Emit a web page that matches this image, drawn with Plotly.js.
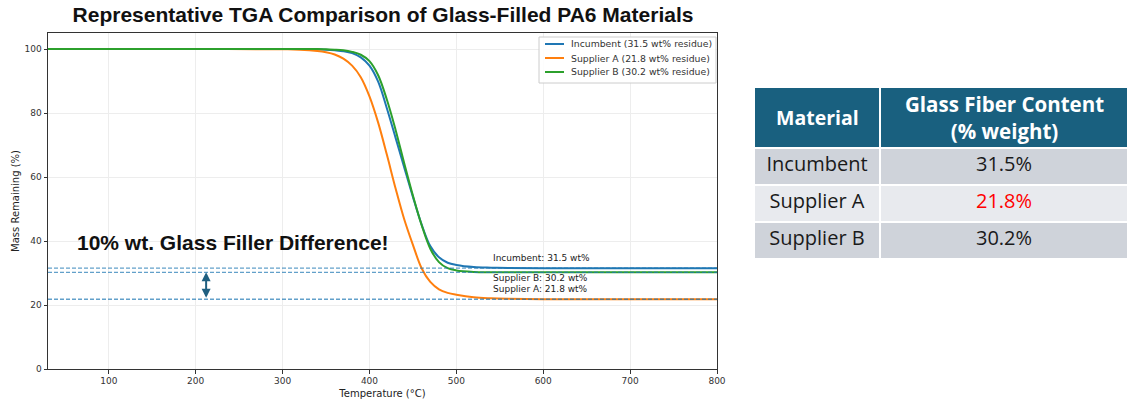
<!DOCTYPE html>
<html>
<head>
<meta charset="utf-8">
<script src="https://cdn.plot.ly/plotly-3.0.1.min.js"></script>
<style>html,body{margin:0;padding:0;background:#fff;}#chart{width:1129px;height:402px;}</style>
</head>
<body>
<div id="chart"></div>
<script>
// ---- data ----
const temperature   = [30, 100, 200, 300, 320, 340, 350, 360, 370, 380, 390, 400, 410, 420, 430, 440, 450, 460, 470, 480, 490, 500, 520, 540, 560, 600, 700, 800];
const incumbentMass = [100, 100, 100, 100, 100, 99.9, 99.8, 99.6, 99.3, 98.7, 97.4, 94.8, 89.8, 81.5, 72.3, 63.0, 53.8, 45.2, 38.4, 34.9, 33.2, 32.5, 31.85, 31.65, 31.55, 31.5, 31.5, 31.5];
const supplierAMass = [100, 100, 100, 99.9, 99.8, 99.4, 99.0, 98.3, 97.0, 94.8, 91.2, 85.2, 77.0, 67.0, 56.5, 46.8, 38.8, 31.5, 27.2, 24.9, 23.8, 23.2, 22.4, 22.1, 21.95, 21.8, 21.8, 21.8];
const supplierBMass = [100, 100, 100, 100, 100, 100, 99.9, 99.8, 99.6, 99.1, 98.2, 96.2, 91.8, 84.2, 74.8, 64.3, 54.2, 45.0, 37.6, 33.4, 31.5, 30.8, 30.35, 30.25, 30.2, 30.2, 30.2, 30.2];

const seriesNames = ["Incumbent", "Supplier A", "Supplier B"];
const residues = [31.5, 21.8, 30.2];
const seriesColors = ["#1f77b4", "#ff7f0e", "#2ca02c"];

const tableMaterials = ["Incumbent", "Supplier A", "Supplier B"];
const tableContent = ["31.5%", "21.8%", "30.2%"];
const tableHeader = ["Material", "Glass Fiber Content<br>(% weight)"];

const titleText = "Representative TGA Comparison of Glass-Filled PA6 Materials";
const calloutText = "10% wt. Glass Filler Difference!";
const xTicks = [100, 200, 300, 400, 500, 600, 700, 800];
const yTicks = [0, 20, 40, 60, 80, 100];

// ---- layout geometry ----
const W = 1129, H = 402;
const plotL = 48, plotR = 717, plotT = 33, plotB = 369;
const fx = v => v / W, fy = v => 1 - v / H;
const tabL = 754, tabSplit = 880, tabR = 1128, tabT = 87, tabHeadB = 148, tabB = 261;

const massSeries = [incumbentMass, supplierAMass, supplierBMass];
const traces = massSeries.map((m, i) => ({
  type: "scatter", mode: "lines",
  x: temperature, y: m,
  name: `${seriesNames[i]} (${residues[i]} wt% residue)`,
  showlegend: false,
  line: {color: seriesColors[i], width: 2, shape: "spline", smoothing: 1},
  hoverinfo: "skip"
}));

const cellFont = "Open Sans, sans-serif";
traces.push({
  type: "table",
  domain: {x: [fx(tabL), fx(tabR)], y: [fy(tabB), fy(tabT)]},
  columnwidth: [tabSplit - tabL, tabR - tabSplit],
  header: {
    values: [" ", " "],
    fill: {color: "#19607f"},
    line: {color: "#ffffff", width: 2},
    align: "center",
    height: tabHeadB - tabT,
    font: {family: cellFont, size: 19, color: "#ffffff"}
  },
  cells: {
    values: [tableMaterials, tableContent],
    fill: {color: [["#cfd3da", "#e8eaee", "#cfd3da"], ["#cfd3da", "#e8eaee", "#cfd3da"]]},
    line: {color: "#ffffff", width: 2},
    align: "center",
    height: 37,
    font: {family: cellFont, size: 20,
           color: [["#1a1a1a", "#1a1a1a", "#1a1a1a"], ["#1a1a1a", "#ff0000", "#1a1a1a"]]}
  }
});

const shapes = residues.map(r => ({
  type: "line", xref: "x domain", yref: "y",
  x0: 0, x1: 1, y0: r, y1: r,
  line: {color: "rgba(31,119,180,0.7)", width: 1.3, dash: "4px,2px"},
  layer: "above"
}));

// legend (matplotlib-style compact box)
const legL = 539, legR = 716, legT = 37, legB = 83, legRowY = [44, 58, 72];
shapes.push({type: "rect", xref: "paper", yref: "paper",
  x0: fx(legL), x1: fx(legR), y0: fy(legB), y1: fy(legT),
  fillcolor: "rgba(255,255,255,0.85)", line: {color: "#cccccc", width: 1}, layer: "above"});
seriesNames.forEach((n, i) => shapes.push({type: "line", xref: "paper", yref: "paper",
  x0: fx(545), x1: fx(564), y0: fy(legRowY[i]), y1: fy(legRowY[i]),
  line: {color: seriesColors[i], width: 2}, layer: "above"}));

const annoFont = {family: "DejaVu Sans, sans-serif", size: 9, color: "#222"};

const annotations = [
  {x: 540, y: residues[0] + 3.2, xref: "x", yref: "y", text: `${seriesNames[0]}: ${residues[0]} wt%`,
   showarrow: false, xanchor: "left", yanchor: "middle", font: annoFont},
  {x: 540, y: residues[2] - 1.8, xref: "x", yref: "y", text: `${seriesNames[2]}: ${residues[2]} wt%`,
   showarrow: false, xanchor: "left", yanchor: "middle", font: annoFont},
  {x: 540, y: residues[1] + 3.2, xref: "x", yref: "y", text: `${seriesNames[1]}: ${residues[1]} wt%`,
   showarrow: false, xanchor: "left", yanchor: "middle", font: annoFont},
  {x: 61, y: 39.4, xref: "x", yref: "y", text: `<b>${calloutText}</b>`,
   showarrow: false, xanchor: "left", yanchor: "middle",
   font: {family: "Liberation Sans, Arial, sans-serif", size: 21, color: "#111"}},
  {x: 212, y: residues[2], ax: 212, ay: residues[1], xref: "x", yref: "y", axref: "x", ayref: "y",
   text: "", showarrow: true, arrowhead: 2, arrowside: "end+start", arrowsize: 0.9, arrowwidth: 2,
   arrowcolor: "#1f5f80", standoff: 0, startstandoff: 0},
  // table header labels, centred in their header cells
  {x: fx((tabL + tabSplit) / 2), y: fy((tabT + tabHeadB) / 2), xref: "paper", yref: "paper",
   text: `<b>${tableHeader[0]}</b>`, showarrow: false, xanchor: "center", yanchor: "middle", align: "center",
   font: {family: cellFont, size: 19.5, color: "#ffffff"}},
  {x: fx((tabSplit + tabR) / 2), y: fy((tabT + tabHeadB) / 2), xref: "paper", yref: "paper",
   text: `<b>${tableHeader[1]}</b>`, showarrow: false, xanchor: "center", yanchor: "middle", align: "center",
   font: {family: cellFont, size: 20.5, color: "#ffffff"}}
];
seriesNames.forEach((n, i) => annotations.push({
  x: fx(569), y: fy(legRowY[i]), xref: "paper", yref: "paper",
  text: `${n} (${residues[i]} wt% residue)`, showarrow: false, xanchor: "left", yanchor: "middle",
  font: {family: "DejaVu Sans, sans-serif", size: 9.3, color: "#333"}}));

const tickFont = {family: "DejaVu Sans, sans-serif", size: 9, color: "#333"};

const layout = {
  width: W, height: H,
  margin: {l: 0, r: 0, t: 0, b: 0},
  paper_bgcolor: "#ffffff", plot_bgcolor: "#ffffff",
  showlegend: false,
  title: {text: `<b>${titleText}</b>`, x: fx(383), xanchor: "center", y: fy(15), yanchor: "middle",
          xref: "paper", yref: "paper",
          font: {family: "Liberation Sans, Arial, sans-serif", size: 21, color: "#111"}},
  xaxis: {
    domain: [fx(plotL), fx(plotR)], range: [30, 800], tickvals: xTicks,
    showgrid: true, gridcolor: "#ededed", gridwidth: 1, zeroline: false,
    showline: true, linecolor: "#333", linewidth: 1, mirror: true,
    ticks: "outside", ticklen: 3.5, tickcolor: "#333", tickfont: tickFont, automargin: false,
    title: {text: "Temperature (°C)", font: {family: "DejaVu Sans, sans-serif", size: 10, color: "#222"}, standoff: 4}
  },
  yaxis: {
    domain: [fy(plotB), fy(plotT)], range: [0, 105], tickvals: yTicks,
    showgrid: true, gridcolor: "#ededed", gridwidth: 1, zeroline: false,
    showline: true, linecolor: "#333", linewidth: 1, mirror: true,
    ticks: "outside", ticklen: 3.5, tickcolor: "#333", tickfont: tickFont, automargin: false,
    title: {text: "Mass Remaining (%)", font: {family: "DejaVu Sans, sans-serif", size: 10, color: "#222"}, standoff: 3}
  },
  shapes: shapes,
  annotations: annotations
};

Plotly.newPlot("chart", traces, layout, {staticPlot: true, displayModeBar: false});
</script>
</body>
</html>
